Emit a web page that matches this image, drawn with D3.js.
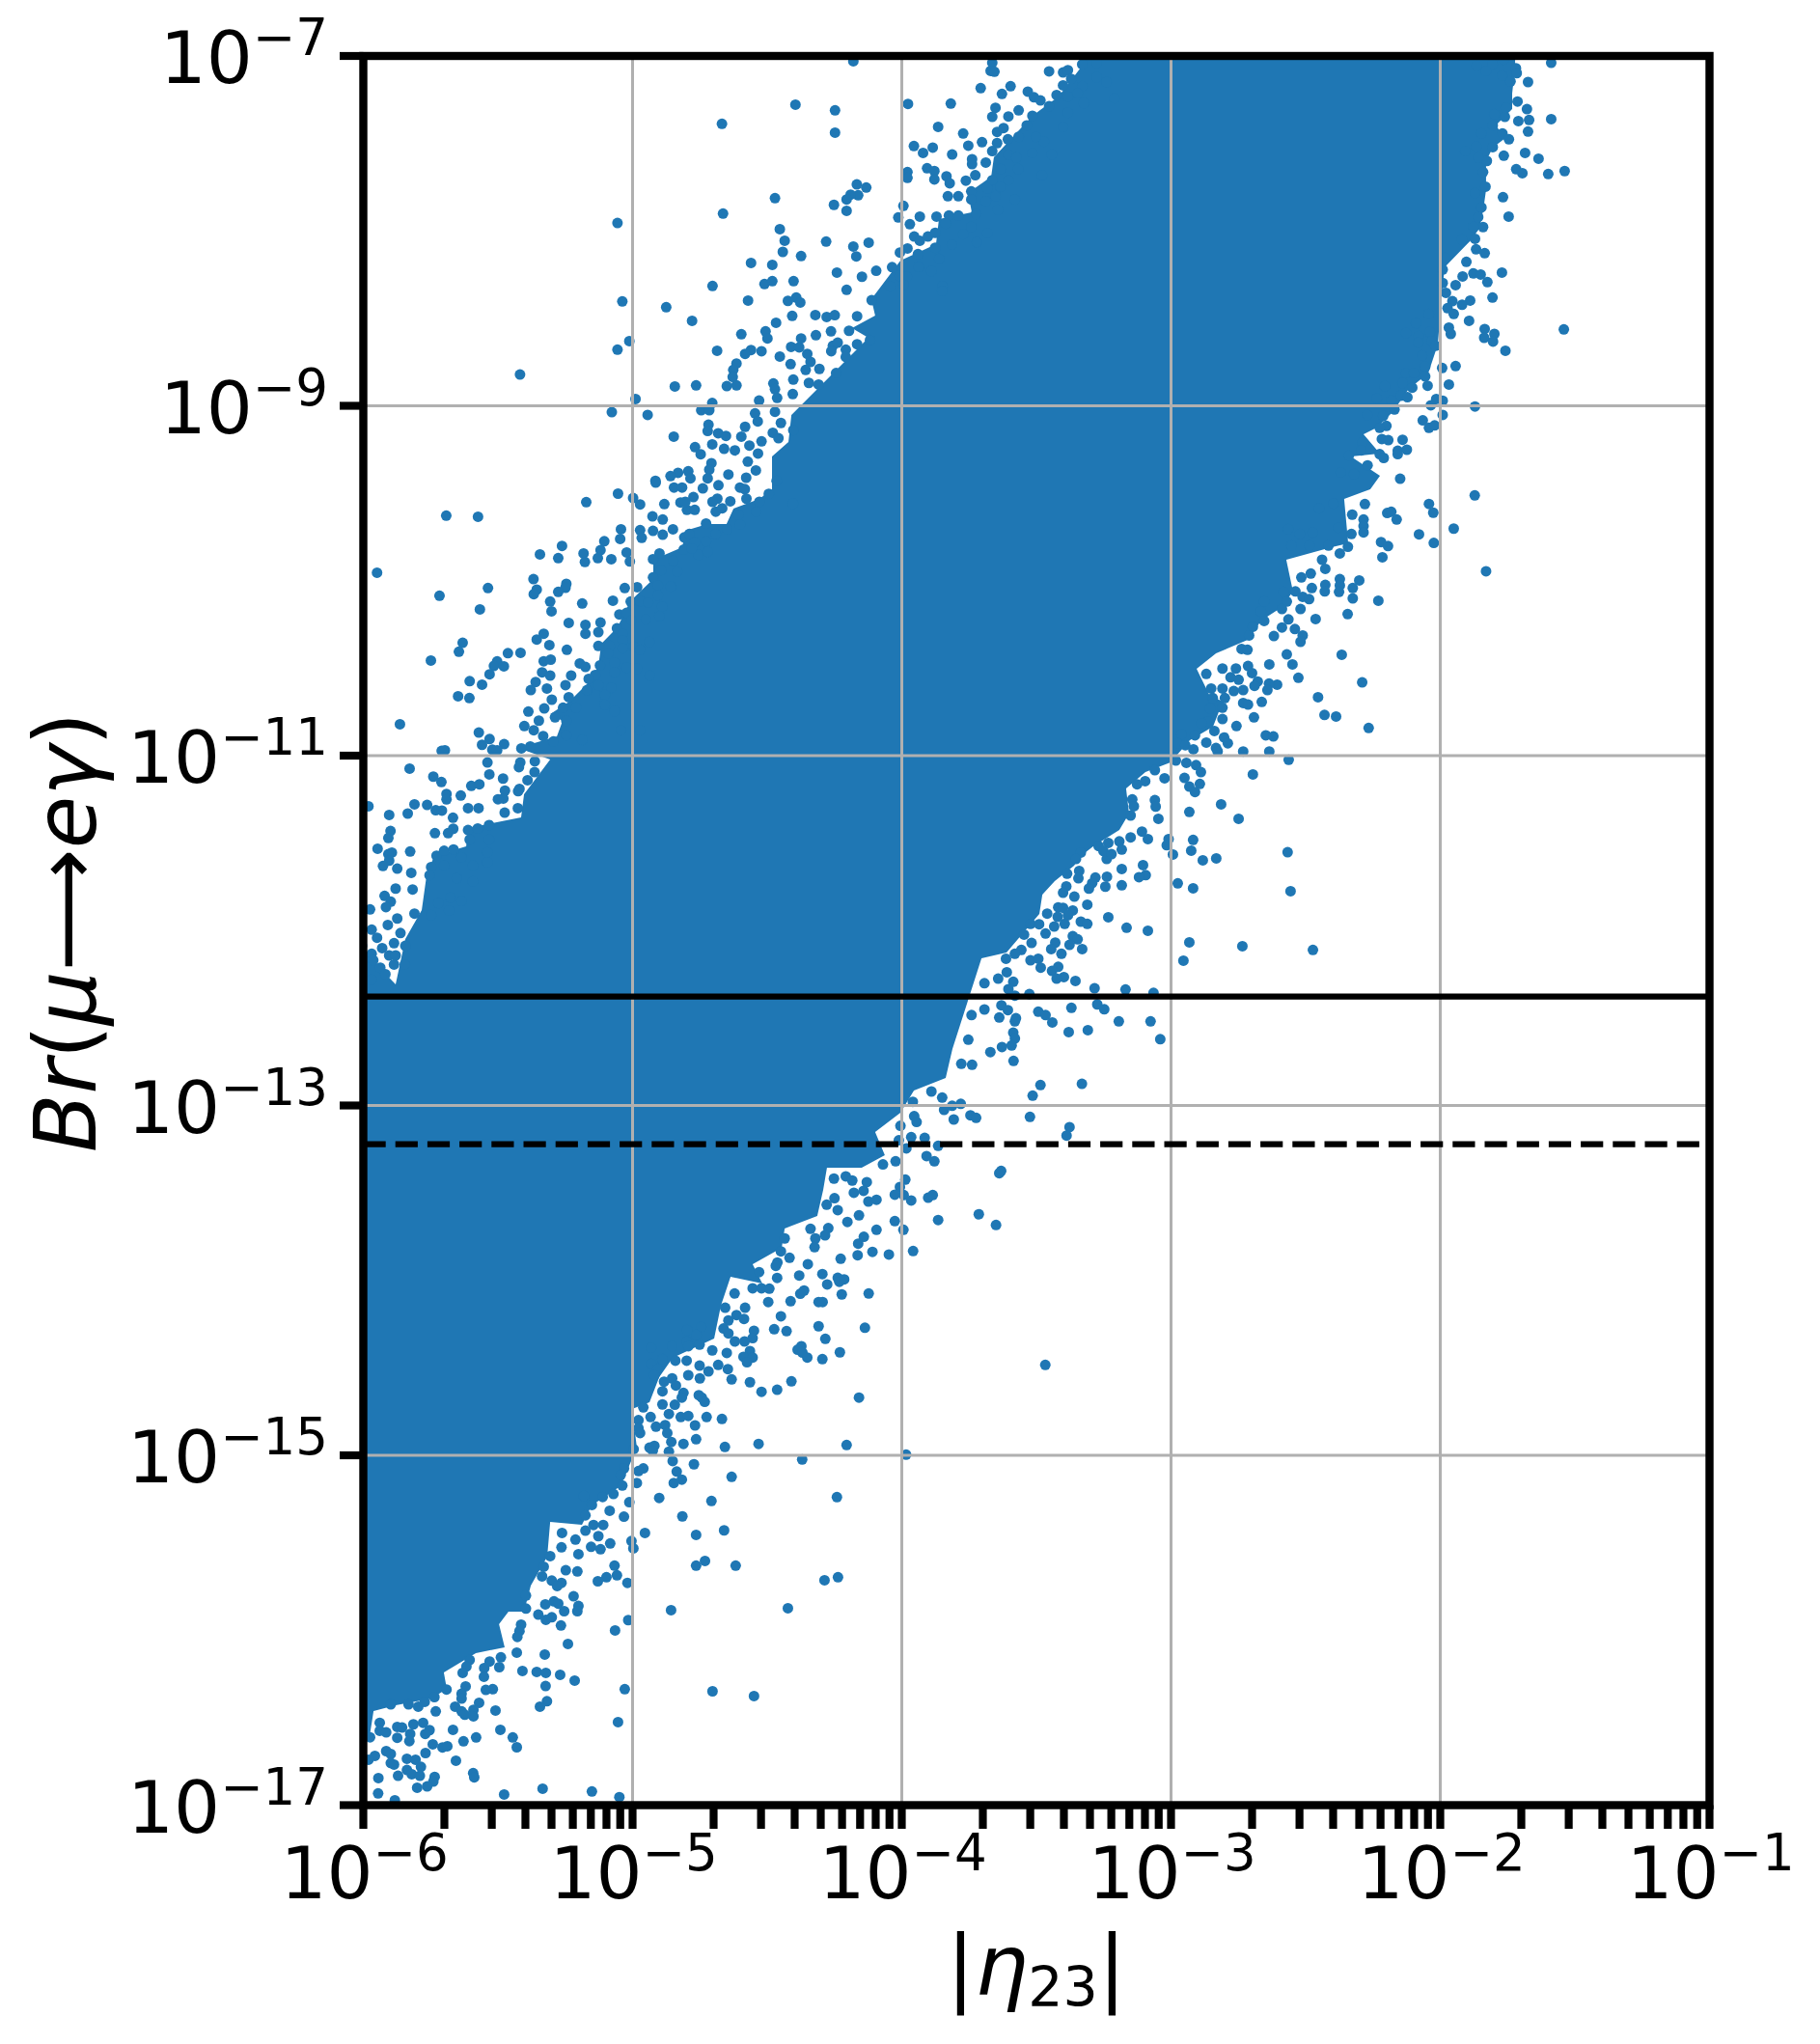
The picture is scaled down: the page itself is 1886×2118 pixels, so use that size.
<!DOCTYPE html>
<html><head><meta charset="utf-8">
<script src="https://cdn.jsdelivr.net/npm/d3@7/dist/d3.min.js"></script>
<style>html,body{margin:0;padding:0;background:#fff}svg{display:block}text{font-family:"DejaVu Sans";fill:#000}</style>
</head><body><svg id="c" width="1886" height="2118"></svg>
<script>
// All values are log10(|eta23|), log10(Br).
const xDecades=[-6,-5,-4,-3,-2,-1];
const yDecades=[-7,-9,-11,-13,-15,-17];
const limitCurrent=4.2e-13, limitFuture=6e-14;
// Solid core of the point cloud: its outline
const coreUpper=[[-6,-12.114],[-5.88,-12.308],[-5.844,-12.048],[-5.783,-11.883],[-5.765,-11.684],[-5.737,-11.574],[-5.618,-11.519],[-5.611,-11.414],[-5.522,-11.386],[-5.414,-11.353],[-5.403,-11.221],[-5.306,-11.022],[-5.425,-10.956],[-5.281,-10.89],[-5.26,-10.801],[-5.306,-10.763],[-5.235,-10.691],[-5.163,-10.581],[-5.127,-10.487],[-5.116,-10.36],[-5.056,-10.266],[-5.009,-10.117],[-4.923,-9.99],[-4.923,-9.88],[-4.815,-9.808],[-4.805,-9.714],[-4.722,-9.676],[-4.651,-9.676],[-4.625,-9.588],[-4.529,-9.532],[-4.482,-9.477],[-4.482,-9.29],[-4.421,-9.207],[-4.41,-9.052],[-4.256,-8.815],[-4.124,-8.611],[-4.185,-8.556],[-4.099,-8.484],[-4.113,-8.39],[-4.005,-8.17],[-3.873,-8.076],[-3.862,-7.932],[-3.74,-7.894],[-3.754,-7.783],[-3.668,-7.69],[-3.658,-7.579],[-3.515,-7.342],[-3.418,-7.232],[-3.335,-7.066],[-3.324,-7.028],[-3.314,-7]];
const coreLower=[[-1.722,-7],[-1.722,-7.066],[-1.733,-7.215],[-1.733,-7.303],[-1.794,-7.397],[-1.758,-7.469],[-1.805,-7.524],[-1.83,-7.601],[-1.83,-7.767],[-1.84,-7.877],[-1.855,-7.988],[-1.89,-8.059],[-1.984,-8.208],[-1.998,-8.429],[-2.009,-8.65],[-2.045,-8.815],[-2.117,-8.903],[-2.177,-9.036],[-2.235,-9.124],[-2.285,-9.163],[-2.224,-9.273],[-2.332,-9.29],[-2.224,-9.4],[-2.26,-9.477],[-2.357,-9.532],[-2.342,-9.786],[-2.403,-9.808],[-2.572,-9.88],[-2.547,-10.062],[-2.593,-10.156],[-2.665,-10.228],[-2.715,-10.338],[-2.833,-10.415],[-2.905,-10.503],[-2.858,-10.652],[-2.808,-10.691],[-2.844,-10.834],[-2.93,-10.912],[-3.002,-11.039],[-3.095,-11.094],[-3.167,-11.188],[-3.156,-11.331],[-3.192,-11.425],[-3.289,-11.519],[-3.335,-11.574],[-3.36,-11.629],[-3.432,-11.717],[-3.478,-11.794],[-3.489,-11.905],[-3.611,-12.126],[-3.704,-12.159],[-3.812,-12.677],[-3.837,-12.843],[-3.955,-12.914],[-4.005,-13.041],[-4.099,-13.152],[-4.063,-13.284],[-4.149,-13.356],[-4.278,-13.356],[-4.292,-13.483],[-4.314,-13.632],[-4.435,-13.703],[-4.446,-13.814],[-4.554,-13.908],[-4.518,-14.018],[-4.636,-13.979],[-4.672,-14.145],[-4.697,-14.332],[-4.851,-14.443],[-4.901,-14.553],[-4.937,-14.697],[-5.002,-14.735],[-4.984,-14.956],[-5.045,-15.177],[-5.152,-15.287],[-5.188,-15.397],[-5.306,-15.381],[-5.317,-15.579],[-5.378,-15.745],[-5.403,-15.894],[-5.461,-15.894],[-5.496,-15.966],[-5.475,-16.098],[-5.582,-16.131],[-5.701,-16.241],[-5.69,-16.335],[-5.747,-16.39],[-5.88,-16.429],[-5.962,-16.462],[-5.977,-16.611],[-6,-16.611]];
// Individually visible points around the core
const pointsUpperLeft=[[-5.172,-9.551],[-5.054,-9.502],[-4.998,-9.527],[-4.972,-9.564],[-4.914,-9.439],[-4.846,-9.467],[-4.816,-9.467],[-4.739,-9.472],[-4.681,-9.454],[-4.601,-9.467],[-4.583,-9.476],[-4.882,-9.562],[-4.822,-9.553],[-4.774,-9.522],[-4.798,-9.595],[-4.769,-9.595],[-4.804,-9.549],[-4.691,-9.605],[-4.667,-9.586],[-4.685,-9.531],[-4.637,-9.546],[-4.703,-9.549],[-4.577,-9.531],[-4.529,-9.549],[-4.494,-9.503],[-4.404,-9.559],[-5.692,-9.628],[-5.574,-9.634],[-4.926,-9.632],[-4.888,-9.65],[-4.727,-9.673],[-4.691,-9.733],[-4.649,-9.706],[-4.607,-9.623],[-4.541,-9.605],[-4.601,-9.678],[-4.972,-9.711],[-4.966,-9.755],[-4.924,-9.715],[-4.888,-9.737],[-4.85,-9.706],[-5.043,-9.706],[-5.046,-9.761],[-5.105,-9.774],[-5.119,-9.825],[-5.129,-9.871],[-5.182,-9.844],[-5.177,-9.893],[-5.079,-9.877],[-5.022,-9.838],[-5.01,-9.89],[-5.262,-9.801],[-5.344,-9.849],[-5.276,-9.871],[-4.808,-9.752],[-4.789,-9.733],[-4.769,-9.779],[-4.727,-9.774],[-4.81,-9.822],[-4.756,-9.853],[-4.721,-9.834],[-4.78,-9.816],[-5.949,-9.954],[-4.9,-9.844],[-4.924,-9.877],[-4.849,-9.886],[-4.834,-9.948],[-4.894,-9.939],[-4.924,-9.981],[-4.906,-10.027],[-4.906,-10.083],[-4.858,-10.033],[-5.368,-9.991],[-5.356,-10.051],[-5.367,-10.077],[-5.246,-10.018],[-5.249,-10.04],[-5.276,-10.064],[-5.537,-10.042],[-5.717,-10.086],[-5.306,-10.119],[-5.301,-10.175],[-5.187,-10.13],[-5.029,-10.042],[-4.983,-10.037],[-5.073,-10.114],[-5.007,-10.119],[-4.972,-10.116],[-4.942,-10.125],[-5.567,-10.164],[-5.049,-10.193],[-5.022,-10.184],[-5.004,-10.226],[-4.95,-10.221],[-4.9,-10.202],[-4.89,-10.147],[-5.237,-10.241],[-5.175,-10.252],[-5.175,-10.303],[-5.119,-10.239],[-5.127,-10.294],[-5.058,-10.272],[-5.037,-10.303],[-5.037,-10.34],[-5.33,-10.303],[-5.356,-10.336],[-5.309,-10.368],[-5.631,-10.355],[-5.645,-10.406],[-5.244,-10.395],[-5.127,-10.373],[-5.085,-10.373],[-5.037,-10.386],[-4.996,-10.377],[-4.972,-10.395],[-4.938,-10.349],[-5.463,-10.414],[-5.416,-10.412],[-5.749,-10.456],[-5.503,-10.461],[-5.515,-10.487],[-5.478,-10.489],[-5.531,-10.535],[-5.33,-10.46],[-5.304,-10.451],[-5.196,-10.473],[-5.175,-10.493],[-5.121,-10.484],[-5.091,-10.414],[-5.067,-10.469],[-5.022,-10.496],[-4.984,-10.502],[-5.336,-10.524],[-5.306,-10.542],[-5.228,-10.542],[-5.139,-10.539],[-5.163,-10.561],[-5.067,-10.524],[-4.936,-10.542],[-5.605,-10.574],[-5.559,-10.594],[-5.36,-10.579],[-5.378,-10.625],[-5.318,-10.616],[-5.249,-10.597],[-5.127,-10.597],[-5.079,-10.612],[-5.103,-10.653],[-5.169,-10.625],[-5.3,-10.68],[-5.237,-10.666],[-5.648,-10.66],[-5.606,-10.671],[-5.328,-10.73],[-5.387,-10.748],[-5.258,-10.726],[-5.21,-10.726],[-5.288,-10.781],[-5.246,-10.8],[-5.103,-10.708],[-5.067,-10.745],[-5.864,-10.82],[-5.348,-10.8],[-5.402,-10.831],[-5.367,-10.855],[-5.332,-10.888],[-5.571,-10.868],[-5.531,-10.905],[-5.246,-10.883],[-5.187,-10.91],[-5.043,-10.855],[-4.972,-10.855],[-5.294,-10.919],[-5.477,-10.934],[-5.559,-10.938],[-5.38,-10.947],[-5.413,-10.958],[-5.709,-10.973],[-5.697,-10.969],[-5.521,-10.966],[-5.503,-10.969],[-5.539,-11.039],[-5.363,-11.032],[-5.417,-11.039],[-5.422,-11.066],[-5.828,-11.074],[-5.532,-11.107],[-5.364,-11.094],[-5.74,-11.12],[-5.71,-11.151],[-5.481,-11.131],[-5.39,-11.14],[-5.42,-11.19],[-5.599,-11.173],[-5.569,-11.164],[-5.474,-11.2],[-5.425,-11.203],[-5.691,-11.219],[-5.638,-11.228],[-5.691,-11.25],[-5.48,-11.245],[-5.5,-11.249],[-5.981,-11.289],[-5.81,-11.278],[-5.763,-11.282],[-5.426,-11.3],[-5.904,-11.339],[-5.835,-11.331],[-5.731,-11.312],[-5.708,-11.314],[-5.611,-11.3],[-5.572,-11.3],[-5.667,-11.355],[-5.475,-11.326],[-5.666,-11.418],[-5.899,-11.431],[-5.907,-11.471],[-5.734,-11.443],[-5.685,-11.443],[-5.611,-11.425],[-5.575,-11.416],[-5.533,-11.397],[-5.947,-11.532],[-5.826,-11.548],[-5.894,-11.554],[-5.907,-11.563],[-5.728,-11.572],[-5.7,-11.544],[-5.665,-11.536],[-5.635,-11.581],[-5.605,-11.48],[-5.533,-11.48],[-5.539,-11.553],[-5.904,-11.6],[-5.927,-11.631],[-5.874,-11.646],[-5.822,-11.67],[-5.748,-11.637],[-5.7,-11.628],[-5.593,-11.628],[-5.539,-11.609],[-5.88,-11.76],[-5.817,-11.765],[-5.921,-11.802],[-5.898,-11.835],[-5.916,-11.866],[-5.975,-11.879],[-5.721,-11.844],[-5.754,-11.684],[-5.653,-11.701],[-5.593,-11.719],[-5.677,-11.811],[-5.635,-11.831],[-5.874,-11.931],[-5.909,-11.968],[-5.81,-11.903],[-5.748,-11.912],[-5.682,-11.885],[-5.969,-11.995],[-5.862,-12.014],[-5.949,-12.041],[-5.886,-12.072],[-5.93,-12.1],[-5.969,-12.133],[-5.904,-12.142],[-5.88,-12.142],[-5.963,-12.17],[-5.886,-12.194],[-5.846,-12.194],[-5.937,-12.212],[-5.918,-12.249],[-5.969,-12.28],[-5.844,-12.087],[-6.005,-12.087]];
const pointsTop=[[-4.18,-7.03],[-3.664,-7.039],[-3.67,-7.085],[-3.656,-7.09],[-3.453,-7.088],[-3.401,-7.094],[-3.383,-7.081],[-3.371,-7.131],[-3.401,-7.168],[-3.33,-7.048],[-3.276,-7.039],[-3.33,-7.173],[-3.276,-7.122],[-3.24,-7.149],[-3.707,-7.184],[-3.628,-7.217],[-3.596,-7.173],[-3.532,-7.204],[-3.509,-7.236],[-3.485,-7.254],[-3.425,-7.223],[-3.383,-7.232],[-3.347,-7.213],[-3.21,-7.241],[-4.395,-7.278],[-4.248,-7.311],[-3.977,-7.274],[-3.818,-7.272],[-3.652,-7.296],[-3.664,-7.348],[-3.604,-7.346],[-3.566,-7.311],[-3.515,-7.342],[-3.453,-7.287],[-3.383,-7.324],[-3.324,-7.269],[-4.668,-7.388],[-4.248,-7.438],[-3.865,-7.405],[-3.772,-7.443],[-3.646,-7.434],[-3.622,-7.412],[-3.606,-7.476],[-3.566,-7.462],[-3.536,-7.397],[-3.753,-7.513],[-3.702,-7.493],[-3.646,-7.498],[-3.472,-7.489],[-3.502,-7.462],[-3.401,-7.406],[-3.955,-7.515],[-3.885,-7.524],[-3.921,-7.554],[-3.813,-7.563],[-3.739,-7.59],[-3.739,-7.618],[-3.664,-7.544],[-3.688,-7.609],[-3.604,-7.563],[-3.574,-7.581],[-3.515,-7.554],[-3.443,-7.563],[-3.979,-7.664],[-3.979,-7.697],[-3.906,-7.642],[-3.879,-7.658],[-3.879,-7.706],[-3.834,-7.688],[-3.822,-7.728],[-3.762,-7.713],[-3.727,-7.682],[-3.664,-7.71],[-3.634,-7.646],[-3.604,-7.71],[-3.568,-7.646],[-3.479,-7.682],[-4.167,-7.734],[-4.132,-7.752],[-4.162,-7.796],[-4.19,-7.793],[-4.205,-7.82],[-4.471,-7.813],[-4.252,-7.851],[-4.205,-7.885],[-3.829,-7.802],[-3.79,-7.802],[-3.742,-7.774],[-3.742,-7.82],[-3.688,-7.83],[-3.652,-7.802],[-3.643,-7.879],[-3.682,-7.756],[-3.634,-7.747],[-3.58,-7.82],[-3.994,-7.857],[-4.664,-7.901],[-4.013,-7.923],[-3.933,-7.918],[-3.97,-7.962],[-3.871,-7.918],[-3.825,-7.912],[-3.79,-7.912],[-3.724,-7.903],[-3.837,-7.958],[-3.742,-7.977],[-4.453,-7.99],[-4.435,-8.056],[-4.442,-8.12],[-4.281,-8.061],[-4.18,-8.089],[-4.123,-8.067],[-4.169,-8.146],[-4.374,-8.144],[-3.954,-8.032],[-3.933,-8.056],[-3.903,-8.032],[-3.876,-8.011],[-3.772,-8.019],[-3.721,-8.065],[-3.682,-8.013],[-3.979,-8.1],[-3.94,-8.133],[-4.007,-8.124],[-3.876,-8.096],[-3.814,-8.078],[-3.861,-8.16],[-4.56,-8.183],[-4.481,-8.194],[-4.241,-8.238],[-4.148,-8.262],[-4.095,-8.228],[-4.036,-8.207],[-4.008,-8.257],[-3.981,-8.26],[-3.937,-8.206],[-3.89,-8.229],[-4.703,-8.315],[-4.51,-8.304],[-4.481,-8.287],[-4.402,-8.287],[-4.205,-8.337],[-4.044,-8.317],[-3.993,-8.307],[-3.849,-8.316],[-3.85,-8.344],[-4.571,-8.398],[-4.423,-8.4],[-4.392,-8.381],[-4.377,-8.409],[-4.112,-8.396],[-5.056,-7.955],[-5.418,-8.821],[-5.077,-9.036]];
const pointsTopLow=[[-5.038,-8.403],[-4.875,-8.436],[-4.779,-8.514],[-4.407,-8.486],[-4.321,-8.481],[-4.279,-8.492],[-4.249,-8.482],[-4.166,-8.488],[-4.467,-8.525],[-4.596,-8.591],[-4.506,-8.574],[-4.499,-8.615],[-4.319,-8.596],[-4.263,-8.574],[-4.196,-8.571],[-5.012,-8.63],[-5.056,-8.679],[-4.686,-8.685],[-4.56,-8.681],[-4.582,-8.703],[-4.521,-8.688],[-4.411,-8.663],[-4.374,-8.615],[-4.381,-8.666],[-4.256,-8.657],[-4.238,-8.639],[-4.262,-8.688],[-4.166,-8.648],[-4.118,-8.624],[-4.208,-8.679],[-4.453,-8.718],[-4.413,-8.762],[-4.614,-8.758],[-4.626,-8.795],[-4.351,-8.703],[-4.339,-8.749],[-4.208,-8.721],[-4.357,-8.795],[-4.306,-8.789],[-4.628,-8.835],[-4.403,-8.85],[-4.477,-8.872],[-4.471,-8.905],[-4.843,-8.889],[-4.764,-8.883],[-4.65,-8.887],[-4.614,-8.883],[-4.345,-8.869],[-4.309,-8.878],[-4.244,-8.813],[-4.989,-8.961],[-4.405,-8.933],[-4.463,-8.955],[-4.53,-8.97],[-4.704,-8.984],[-4.745,-9.025],[-4.715,-9.025],[-4.944,-9.052],[-4.545,-9.043],[-4.535,-9.089],[-4.471,-9.034],[-4.582,-9.12],[-4.718,-9.108],[-4.721,-9.144],[-4.449,-9.098],[-4.403,-9.139],[-4.847,-9.176],[-4.682,-9.157],[-4.653,-9.172],[-4.596,-9.176],[-4.479,-9.154],[-4.458,-9.185],[-4.704,-9.22],[-4.66,-9.246],[-4.768,-9.236],[-4.747,-9.277],[-4.521,-9.203],[-4.62,-9.255],[-4.566,-9.227],[-4.534,-9.273],[-4.572,-9.319],[-4.707,-9.328],[-4.715,-9.365],[-4.721,-9.415],[-4.542,-9.369],[-4.793,-9.374],[-4.831,-9.383],[-4.859,-9.402],[-4.785,-9.415],[-4.915,-9.429],[-4.644,-9.393],[-4.578,-9.411],[-4.465,-9.429]];
const pointsRight=[[-1.588,-7.039],[-1.764,-7.02],[-1.806,-7.048],[-1.719,-7.07],[-1.716,-7.098],[-1.674,-7.149],[-1.77,-7.112],[-1.739,-7.145],[-1.83,-7.085],[-1.865,-7.057],[-1.713,-7.26],[-1.678,-7.304],[-1.588,-7.361],[-1.67,-7.366],[-1.71,-7.372],[-1.674,-7.432],[-1.76,-7.348],[-1.757,-7.296],[-1.799,-7.333],[-1.805,-7.397],[-1.769,-7.443],[-1.745,-7.476],[-1.847,-7.443],[-1.805,-7.521],[-1.866,-7.517],[-1.907,-7.544],[-1.764,-7.57],[-1.685,-7.554],[-1.635,-7.587],[-1.827,-7.6],[-1.859,-7.581],[-1.841,-7.664],[-1.718,-7.647],[-1.695,-7.67],[-1.599,-7.675],[-1.538,-7.658],[-1.832,-7.747],[-1.871,-7.784],[-1.767,-7.807],[-1.847,-7.866],[-1.746,-7.918],[-1.859,-7.921],[-1.841,-7.978],[-1.877,-7.977],[-1.871,-8.045],[-1.919,-8.05],[-1.867,-8.105],[-1.835,-8.127],[-1.981,-8.155],[-1.903,-8.177],[-1.991,-8.221],[-1.877,-8.243],[-1.85,-8.249],[-1.771,-8.238],[-1.917,-8.26],[-1.825,-8.293],[-1.943,-8.31],[-1.991,-8.298],[-1.979,-8.354],[-1.889,-8.398],[-1.919,-8.422],[-1.806,-8.381],[-1.955,-8.402],[-1.973,-8.442],[-1.95,-8.475],[-2.043,-8.475],[-1.893,-8.514],[-2.09,-8.528],[-1.968,-8.553],[-1.961,-8.589],[-2.039,-8.578],[-2.08,-8.602],[-2.082,-8.639],[-2.031,-8.63],[-2.018,-8.657],[-1.835,-8.561],[-1.799,-8.589],[-1.837,-8.611],[-1.804,-8.633],[-1.541,-8.563],[-1.758,-8.685],[-2.127,-8.584],[-2.068,-8.712],[-2.056,-8.777],[-1.993,-8.784],[-1.943,-8.773],[-2.127,-8.813],[-2.098,-8.813],[-2.056,-8.832],[-2.047,-8.885],[-1.968,-8.878],[-2.14,-8.869],[-2.206,-8.887],[-2.104,-8.896],[-2.146,-8.942],[-2.122,-8.951],[-2.236,-8.957],[-2.182,-8.97],[-2.015,-8.961],[-1.991,-8.971],[-2.035,-8.997],[-1.871,-9.004],[-2.17,-9.021],[-2.212,-9.058],[-1.991,-9.052],[-2.065,-9.083],[-2.042,-9.126],[-2.021,-9.112],[-2.271,-9.052],[-2.2,-9.115],[-2.225,-9.126],[-2.289,-9.209],[-2.217,-9.19],[-2.193,-9.196],[-2.14,-9.194],[-2.158,-9.257],[-2.124,-9.251],[-2.34,-9.285],[-2.294,-9.255],[-2.225,-9.276],[-2.158,-9.276],[-2.21,-9.298],[-2.37,-9.38],[-2.27,-9.34],[-2.32,-9.39],[-2.149,-9.417],[-1.872,-9.512],[-2.397,-9.558],[-2.45,-9.586],[-2.28,-9.562],[-2.042,-9.561],[-2.026,-9.611],[-2.197,-9.613],[-2.182,-9.606],[-2.162,-9.65],[-2.327,-9.622],[-2.285,-9.65],[-2.285,-9.687],[-2.285,-9.724],[-1.95,-9.702],[-2.079,-9.735],[-2.024,-9.784],[-2.22,-9.779],[-2.194,-9.802],[-2.565,-9.705],[-2.522,-9.733],[-2.474,-9.724],[-2.379,-9.696],[-2.33,-9.733],[-2.343,-9.806],[-2.415,-9.799],[-2.486,-9.799],[-2.552,-9.799],[-1.83,-9.946]];
const pointsSouthEast=[[-2.215,-9.866],[-2.373,-9.844],[-2.439,-9.88],[-2.427,-9.932],[-2.481,-9.959],[-2.516,-9.981],[-2.301,-9.998],[-2.373,-9.991],[-2.373,-10.027],[-2.325,-10.042],[-2.376,-10.064],[-2.427,-10.024],[-2.429,-10.061],[-2.325,-10.101],[-2.23,-10.114],[-2.477,-10.042],[-2.538,-10.061],[-2.511,-10.092],[-2.487,-10.105],[-2.582,-10.064],[-2.57,-10.119],[-2.588,-10.162],[-2.519,-10.162],[-2.654,-10.119],[-2.666,-10.175],[-2.344,-10.191],[-2.463,-10.219],[-2.654,-10.23],[-2.696,-10.263],[-2.564,-10.221],[-2.588,-10.267],[-2.54,-10.276],[-2.618,-10.316],[-2.511,-10.313],[-2.519,-10.349],[-2.71,-10.313],[-2.738,-10.39],[-2.716,-10.395],[-2.57,-10.421],[-2.366,-10.423],[-2.635,-10.478],[-2.549,-10.478],[-2.714,-10.487],[-2.759,-10.502],[-2.809,-10.502],[-2.869,-10.533],[-2.699,-10.528],[-2.527,-10.555],[-2.779,-10.552],[-2.749,-10.566],[-2.29,-10.581],[-2.678,-10.576],[-2.69,-10.601],[-2.606,-10.594],[-2.636,-10.588],[-2.642,-10.625],[-2.809,-10.616],[-2.851,-10.616],[-2.732,-10.625],[-2.767,-10.631],[-2.454,-10.666],[-2.8,-10.671],[-2.845,-10.671],[-2.732,-10.699],[-2.714,-10.708],[-2.663,-10.693],[-2.809,-10.726],[-2.855,-10.73],[-2.43,-10.767],[-2.387,-10.776],[-2.692,-10.781],[-2.809,-10.791],[-2.863,-10.804],[-2.887,-10.815],[-2.757,-10.831],[-2.839,-10.859],[-2.961,-10.877],[-2.911,-10.884],[-2.266,-10.842],[-2.648,-10.884],[-2.62,-10.89],[-2.803,-10.896],[-2.789,-10.929],[-2.869,-10.925],[-2.976,-10.929],[-2.947,-10.94],[-2.917,-10.964],[-2.833,-10.956],[-2.827,-10.975],[-2.732,-10.976],[-2.635,-10.976],[-2.982,-11.028],[-2.563,-11.024],[-2.943,-11.041],[-2.907,-11.054],[-2.889,-11.094],[-2.696,-11.107],[-2.95,-11.127],[-2.893,-11.162],[-2.932,-11.177],[-2.911,-11.208],[-3.06,-11.083],[-3.024,-11.129],[-3.096,-11.146],[-3.126,-11.164],[-3.06,-11.254],[-3.057,-11.291],[-2.814,-11.278],[-2.932,-11.322],[-2.749,-11.361],[-3.144,-11.25],[-3.138,-11.289],[-3.15,-11.342],[-3.047,-11.361],[-3.108,-11.434],[-3.086,-11.477],[-3.15,-11.467],[-3.009,-11.477],[-3.016,-11.512],[-2.918,-11.482],[-2.925,-11.543],[-2.567,-11.552],[-2.993,-11.565],[-2.832,-11.587],[-2.882,-11.598],[-3.269,-11.517],[-3.233,-11.499],[-3.192,-11.49],[-3.183,-11.537],[-3.251,-11.545],[-3.239,-11.591],[-3.221,-11.563],[-3.335,-11.554],[-3.353,-11.591],[-3.183,-11.648],[-3.104,-11.626],[-3.094,-11.683],[-3.119,-11.695],[-3.341,-11.659],[-3.344,-11.701],[-3.386,-11.675],[-3.281,-11.697],[-3.293,-11.729],[-3.305,-11.76],[-3.238,-11.692],[-3.244,-11.749],[-3.183,-11.741],[-2.975,-11.73],[-2.918,-11.758],[-2.556,-11.775],[-3.389,-11.747],[-3.401,-11.784],[-3.359,-11.806],[-3.311,-11.852],[-3.419,-11.867],[-3.401,-11.87],[-3.365,-11.885],[-3.383,-11.913],[-3.421,-11.922],[-3.46,-11.903],[-3.233,-11.924],[-3.395,-11.962],[-3.335,-11.949],[-3.311,-11.962],[-3.434,-11.977],[-3.522,-11.962],[-3.49,-11.964],[-3.165,-11.984],[-3.086,-12.001],[-3.466,-12.017],[-3.546,-12.023],[-3.365,-12.032],[-3.347,-12.05],[-3.377,-12.082],[-3.518,-12.071],[-3.43,-12.069],[-3.445,-12.106],[-3.556,-12.111],[-3.58,-12.133],[-2.932,-12.067],[-2.735,-12.089],[-2.473,-12.111],[-3.33,-12.106],[-3.407,-12.133],[-3.613,-12.161],[-2.954,-12.172],[-3.522,-12.17],[-3.493,-12.161],[-3.484,-12.212],[-3.419,-12.207],[-3.442,-12.231],[-3.398,-12.266],[-3.425,-12.275],[-3.61,-12.238],[-3.642,-12.275],[-3.693,-12.301],[-3.586,-12.293],[-3.604,-12.335],[-3.355,-12.288],[-3.284,-12.33],[-3.169,-12.337],[-3.065,-12.356],[-3.526,-12.363],[-3.58,-12.372],[-3.63,-12.427],[-3.606,-12.455],[-3.693,-12.451],[-3.741,-12.483],[-3.493,-12.464],[-3.466,-12.483],[-3.37,-12.442],[-3.274,-12.422],[-3.248,-12.45],[-3.638,-12.497],[-3.576,-12.501],[-3.58,-12.519],[-3.441,-12.525],[-3.194,-12.519],[-3.076,-12.519],[-3.38,-12.58],[-3.309,-12.569],[-3.586,-12.584],[-3.58,-12.617],[-3.04,-12.621],[-3.753,-12.624]];
const pointsSouth=[[-3.671,-12.695],[-3.628,-12.666],[-3.592,-12.657],[-3.585,-12.745],[-3.779,-12.762],[-3.739,-12.767],[-3.485,-12.883],[-3.514,-12.944],[-3.331,-12.876],[-3.813,-13.002],[-3.781,-12.991],[-3.843,-13.025],[-3.807,-13.08],[-3.745,-13.056],[-3.724,-13.071],[-3.524,-13.065],[-3.85,-12.955],[-3.89,-12.92],[-3.959,-12.979],[-3.954,-13.061],[-3.945,-13.094],[-4.005,-13.116],[-3.377,-13.124],[-3.388,-13.172],[-3.965,-13.181],[-3.915,-13.185],[-4.011,-13.199],[-3.865,-13.231],[-3.983,-13.245],[-3.908,-13.289],[-3.879,-13.319],[-4.023,-13.319],[-4.07,-13.337],[-3.638,-13.387],[-3.631,-13.374],[-3.987,-13.424],[-4.007,-13.466],[-4.13,-13.438],[-4.252,-13.418],[-4.208,-13.405],[-4.184,-13.429],[-4.142,-13.488],[-4.178,-13.499],[-4.026,-13.51],[-3.993,-13.512],[-3.965,-13.543],[-3.902,-13.527],[-3.885,-13.512],[-4.124,-13.549],[-4.094,-13.539],[-4.25,-13.53],[-4.279,-13.567],[-4.238,-13.598],[-4.159,-13.628],[-3.714,-13.622],[-3.65,-13.683],[-3.865,-13.655],[-4.026,-13.661],[-4.202,-13.666],[-3.994,-13.711],[-4.094,-13.711],[-4.273,-13.701],[-4.285,-13.742],[-4.339,-13.705],[-4.321,-13.76],[-4.141,-13.751],[-4.162,-13.79],[-4.324,-13.81],[-4.435,-13.76],[-4.449,-13.834],[-3.958,-13.832],[-4.109,-13.837],[-4.164,-13.856],[-4.048,-13.852],[-4.417,-13.871],[-4.227,-13.876],[-4.462,-13.898],[-4.468,-13.917],[-4.349,-13.907],[-4.53,-13.953],[-4.381,-13.972],[-4.295,-13.964],[-4.238,-13.985],[-4.232,-14.008],[-4.214,-13.994],[-4.463,-13.986],[-4.277,-14.023],[-4.554,-14.045],[-4.521,-14.045],[-4.492,-14.047],[-4.621,-14.075],[-4.363,-14.058],[-4.377,-14.076],[-4.223,-14.08],[-4.123,-14.075],[-4.413,-14.119],[-4.496,-14.124],[-4.309,-14.124],[-4.294,-14.124],[-4.582,-14.156],[-4.656,-14.156],[-4.449,-14.205],[-4.614,-14.198],[-4.586,-14.22],[-4.644,-14.229],[-4.745,-14.266],[-4.797,-14.284],[-4.662,-14.275],[-4.309,-14.262],[-4.137,-14.271],[-4.474,-14.279],[-4.428,-14.29],[-4.644,-14.303],[-4.549,-14.288],[-4.554,-14.33],[-4.763,-14.312],[-4.284,-14.334],[-4.799,-14.349],[-4.751,-14.367],[-4.62,-14.349],[-4.584,-14.349],[-4.793,-14.376],[-4.853,-14.376],[-4.704,-14.4],[-4.373,-14.376],[-4.387,-14.396],[-4.369,-14.413],[-4.351,-14.441],[-4.65,-14.415],[-4.564,-14.404],[-4.295,-14.45],[-4.23,-14.411],[-4.588,-14.437],[-4.554,-14.441],[-4.575,-14.468],[-4.931,-14.385],[-4.889,-14.45],[-4.841,-14.459],[-4.799,-14.459],[-4.931,-14.477],[-4.751,-14.487],[-4.682,-14.483],[-4.646,-14.507],[-4.718,-14.52],[-4.907,-14.505],[-4.793,-14.542],[-4.75,-14.56],[-4.919,-14.542],[-4.632,-14.566],[-4.564,-14.582],[-4.41,-14.577],[-4.853,-14.56],[-4.883,-14.579],[-4.839,-14.601],[-4.521,-14.637],[-4.463,-14.625],[-3.467,-14.483],[-4.889,-14.634],[-4.811,-14.643],[-4.754,-14.656],[-4.743,-14.67],[-4.732,-14.694],[-4.817,-14.67],[-4.843,-14.711],[-4.889,-14.709],[-4.159,-14.67],[-4.96,-14.726],[-4.865,-14.764],[-4.821,-14.781],[-4.793,-14.775],[-4.725,-14.781],[-4.668,-14.792],[-4.933,-14.781],[-4.978,-14.799],[-4.768,-14.829],[-4.913,-14.836],[-4.879,-14.827],[-4.978,-14.845],[-4.871,-14.873],[-4.972,-14.873],[-4.764,-14.908],[-4.856,-14.924],[-4.811,-14.935],[-4.657,-14.952],[-4.532,-14.935],[-4.205,-14.941],[-4.937,-14.956],[-4.919,-14.946],[-4.925,-14.974],[-4.996,-14.965],[-4.865,-14.979],[-3.984,-14.996],[-4.851,-15.033],[-4.772,-15.051],[-4.37,-15.024],[-4.96,-15.075],[-4.978,-15.09],[-5.032,-15.075],[-4.836,-15.093],[-4.817,-15.139],[-4.847,-15.158],[-4.632,-15.123],[-4.984,-15.158],[-5.044,-15.112],[-5.038,-15.173],[-4.901,-15.244],[-4.707,-15.261],[-4.241,-15.239],[-5.012,-15.268],[-4.815,-15.349],[-5.032,-15.351]];
const pointsSouthWest=[[-5.111,-15.238],[-5.071,-15.221],[-5.085,-15.317],[-5.181,-15.232],[-5.151,-15.284],[-5.175,-15.343],[-5.145,-15.398],[-5.109,-15.398],[-5.175,-15.431],[-5.262,-15.444],[-5.212,-15.482],[-5.127,-15.462],[-5.083,-15.504],[-5.154,-15.523],[-5.119,-15.537],[-5.264,-15.526],[-5.201,-15.565],[-5.306,-15.576],[-5.248,-15.657],[-5.205,-15.664],[-5.067,-15.631],[-5.097,-15.697],[-5.058,-15.686],[-5.129,-15.72],[-5.33,-15.637],[-5.336,-15.692],[-5.3,-15.716],[-5.264,-15.729],[-5.28,-15.747],[-5.219,-15.806],[-5.396,-15.802],[-5.324,-15.852],[-5.292,-15.835],[-5.276,-15.848],[-5.201,-15.861],[-5.396,-15.876],[-5.254,-15.891],[-5.205,-15.891],[-5.35,-15.911],[-5.322,-15.94],[-5.3,-15.926],[-5.266,-15.973],[-5.065,-16.001],[-5.414,-15.968],[-5.42,-16.005],[-5.428,-16.038],[-5.24,-16.078],[-5.43,-16.128],[-5.326,-16.139],[-5.489,-16.155],[-5.531,-16.179],[-5.551,-16.216],[-5.495,-16.211],[-5.605,-16.17],[-5.617,-16.207],[-5.631,-16.244],[-5.552,-16.266],[-5.409,-16.233],[-5.356,-16.238],[-5.322,-16.244],[-5.269,-16.255],[-5.215,-16.288],[-5.62,-16.321],[-5.323,-16.319],[-5.519,-16.337],[-5.545,-16.341],[-5.691,-16.339],[-5.635,-16.363],[-5.635,-16.391],[-5.736,-16.382],[-5.029,-16.337],[-5.57,-16.415],[-5.318,-16.406],[-5.344,-16.437],[-5.832,-16.424],[-5.796,-16.437],[-5.772,-16.409],[-5.898,-16.424],[-5.659,-16.437],[-5.635,-16.464],[-5.591,-16.455],[-5.591,-16.492],[-5.623,-16.483],[-5.731,-16.464],[-5.509,-16.459],[-5.054,-16.525],[-5.939,-16.529],[-5.778,-16.529],[-5.814,-16.538],[-5.874,-16.553],[-5.856,-16.556],[-5.939,-16.575],[-5.915,-16.584],[-5.874,-16.615],[-5.826,-16.593],[-5.829,-16.634],[-5.754,-16.571],[-5.77,-16.593],[-5.667,-16.569],[-5.491,-16.569],[-5.975,-16.612],[-5.445,-16.613],[-5.581,-16.613],[-5.628,-16.635],[-5.43,-16.669],[-5.742,-16.652],[-5.706,-16.67],[-5.688,-16.663],[-5.915,-16.691],[-5.898,-16.707],[-5.769,-16.702],[-5.957,-16.718],[-5.981,-16.74],[-5.898,-16.759],[-5.886,-16.768],[-5.838,-16.735],[-5.806,-16.74],[-5.656,-16.746],[-5.786,-16.781],[-5.838,-16.799],[-5.82,-16.823],[-5.79,-16.832],[-5.944,-16.845],[-5.871,-16.832],[-5.735,-16.838],[-5.74,-16.865],[-5.592,-16.817],[-5.588,-16.841],[-5.8,-16.9],[-5.763,-16.893],[-5.945,-16.933],[-5.883,-16.972],[-5.477,-16.939],[-5.334,-16.906],[-5.151,-16.922],[-5.049,-16.954],[-5.019,-15.729],[-5.016,-15.942],[-4.857,-15.885],[-4.423,-15.874],[-4.287,-15.714],[-4.237,-15.697],[-4.703,-16.349],[-4.549,-16.376],[-4.617,-15.631],[-4.731,-15.604],[-4.764,-15.631],[-4.66,-15.429],[-4.764,-15.455],[-4.954,-15.444],[-5.004,-15.49],[-4.997,-15.532]];

const X0=376.5,X1=1771.5,Y0=58,Y1=1870.5;
const x=d3.scaleLinear().domain([-6,-1]).range([X0,X1]);
const y=d3.scaleLinear().domain([-7,-17]).range([Y0,Y1]);
const svg=d3.select("#c");
const defs=svg.append("defs");
defs.append("clipPath").attr("id","ax").append("rect").attr("x",X0).attr("y",Y0).attr("width",X1-X0).attr("height",Y1-Y0);
const blue="#1f77b4";
const plot=svg.append("g").attr("clip-path","url(#ax)");
const line=d3.line().x(d=>x(d[0])).y(d=>y(d[1]));
plot.append("path").attr("d",line(coreUpper.concat(coreLower))+"Z").attr("fill",blue);
const allPoints=[pointsUpperLeft,pointsTop,pointsTopLow,pointsRight,pointsSouthEast,pointsSouth,pointsSouthWest].flat();
plot.append("g").selectAll("circle").data(allPoints).join("circle").attr("cx",d=>x(d[0])).attr("cy",d=>y(d[1])).attr("r",5.5).attr("fill",blue);
// grid over points
const grid=svg.append("g").attr("clip-path","url(#ax)").attr("stroke","#b0b0b0").attr("stroke-width",3);
grid.selectAll(".gx").data(xDecades).join("line").attr("x1",d=>x(d)).attr("x2",d=>x(d)).attr("y1",Y0).attr("y2",Y1);
grid.selectAll(".gy").data(yDecades).join("line").attr("y1",d=>y(d)).attr("y2",d=>y(d)).attr("x1",X0).attr("x2",X1);
// limits
svg.append("line").attr("x1",X0).attr("x2",X1).attr("y1",y(Math.log10(limitCurrent))).attr("y2",y(Math.log10(limitCurrent))).attr("stroke","#000").attr("stroke-width",6.2);
svg.append("line").attr("x1",X0).attr("x2",X1).attr("y1",y(Math.log10(limitFuture))).attr("y2",y(Math.log10(limitFuture))).attr("stroke","#000").attr("stroke-width",6.2).attr("stroke-dasharray","23.2 10");
// ticks
const tw=8.2,tl=24.5;
const minor=[];xDecades.slice(0,-1).forEach(d=>{for(let m=1;m<10;m++)minor.push(d+Math.log10(m));});minor.push(-1);
svg.append("g").attr("stroke","#000").attr("stroke-width",tw).selectAll("line").data(minor).join("line").attr("x1",d=>x(d)).attr("x2",d=>x(d)).attr("y1",Y1).attr("y2",Y1+tl);
svg.append("g").attr("stroke","#000").attr("stroke-width",tw).selectAll("line").data(yDecades).join("line").attr("y1",d=>y(d)).attr("y2",d=>y(d)).attr("x1",X0).attr("x2",X0-tl);
// spines
svg.append("rect").attr("x",X0).attr("y",Y0).attr("width",X1-X0).attr("height",Y1-Y0).attr("fill","none").attr("stroke","#000").attr("stroke-width",8.4).attr("stroke-linecap","square");
// tick labels
const fs=75.5,sup=53,lift=29;
function powText(sel,v){sel.append("tspan").text("10");sel.append("tspan").attr("dy",-lift).attr("font-size",sup).text("\u2212"+Math.abs(v));}
svg.append("g").selectAll("text").data(xDecades).join("text").attr("x",d=>x(d)+1).attr("y",1966.5).attr("font-size",fs).attr("text-anchor","middle").each(function(d){powText(d3.select(this),d);});
svg.append("g").selectAll("text").data(yDecades).join("text").attr("x",340).attr("y",d=>y(d)+28).attr("font-size",fs).attr("text-anchor","end").each(function(d){powText(d3.select(this),d);});
// axis labels
const xl=svg.append("text").attr("x",1074).attr("y",2067).attr("font-size",87).attr("text-anchor","middle");
xl.append("tspan").text("|");xl.append("tspan").attr("font-style","italic").text("\u03b7");xl.append("tspan").attr("font-size",57).attr("dy",12).text("23");xl.append("tspan").attr("dy",-12).text("|");
const yl=svg.append("text").attr("transform","translate(99,966) rotate(-90)").attr("font-size",88.5).attr("text-anchor","middle");
yl.append("tspan").attr("font-style","italic").text("Br");yl.append("tspan").text("(");yl.append("tspan").attr("font-style","italic").text("\u03bc");yl.append("tspan").text("\u27f6");yl.append("tspan").attr("font-style","italic").text("e\u03b3");yl.append("tspan").text(")");
</script></body></html>
